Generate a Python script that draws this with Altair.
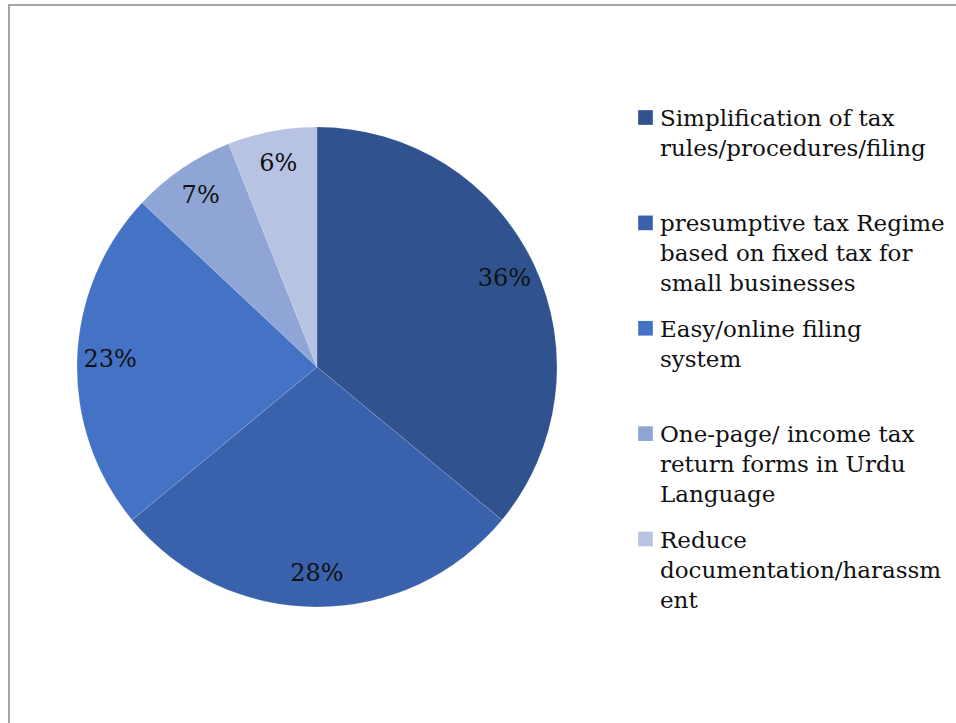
import altair as alt
import pandas as pd

# ---- data ----
categories = [
    "Simplification of tax rules/procedures/filing",
    "presumptive tax Regime based on fixed tax for small businesses",
    "Easy/online filing system",
    "One-page/ income tax return forms in Urdu Language",
    "Reduce documentation/harassment",
]
legend_text = [
    "Simplification of tax\nrules/procedures/filing",
    "presumptive tax Regime\nbased on fixed tax for\nsmall businesses",
    "Easy/online filing\nsystem",
    "One-page/ income tax\nreturn forms in Urdu\nLanguage",
    "Reduce\ndocumentation/harassm\nent",
]
values = [36, 28, 23, 7, 6]
colors = ["#30538F", "#3A62AC", "#4472C4", "#8EA5D5", "#B8C2E2"]

df = pd.DataFrame({
    "cat": categories,
    "leg": legend_text,
    "value": values,
    "label": [f"{v}%" for v in values],
    "order": list(range(len(categories))),
})

FONT = "DejaVu Serif"
W, H = 956, 723
CX, CY, R = 317, 367, 240

color = alt.Color("cat:N", scale=alt.Scale(domain=categories, range=colors), legend=None)
theta = alt.Theta("value:Q", stack=True)

base = alt.Chart(df)

pie = base.mark_arc(outerRadius=R, stroke="#ffffff", strokeWidth=0.5, strokeOpacity=0.25).encode(
    theta=theta, color=color, order=alt.Order("order:Q"),
    x=alt.value(CX), y=alt.value(CY),
)

pie_text = base.mark_text(radius=207, font=FONT, fontSize=24, color="#111111",
                          baseline="middle", align="center").encode(
    theta=theta, text="label:N", order=alt.Order("order:Q"),
    x=alt.value(CX), y=alt.value(CY),
)

leg_y = alt.Y("cat:N", scale=alt.Scale(type="point", domain=categories, range=[117.5, 539], padding=0), axis=None)

leg_sym = base.mark_point(shape="square", filled=True, size=215, opacity=1).encode(
    x=alt.value(645.5), y=leg_y, color=color,
)

leg_txt = base.mark_text(font=FONT, fontSize=23, lineHeight=30, lineBreak="\n",
                         align="left", baseline="top", dy=-9.5, color="#111111").encode(
    x=alt.value(660), y=leg_y, text="leg:N",
)

one = alt.Data(values=[{"a": 1}])
top_rule = alt.Chart(one).mark_rule(color="#a6a6a6", strokeWidth=2).encode(
    x=alt.value(8), x2=alt.value(W), y=alt.value(5),
)
left_rule = alt.Chart(one).mark_rule(color="#a6a6a6", strokeWidth=2).encode(
    x=alt.value(9), y=alt.value(4), y2=alt.value(H),
)

chart = alt.layer(top_rule, left_rule, pie, pie_text, leg_sym, leg_txt).properties(
    width=W, height=H,
    autosize=alt.AutoSizeParams(type="none"),
    padding=0,
    background="#ffffff",
).configure_view(stroke=None)

chart.save("out.html", embed_options={"renderer": "svg", "actions": False})
